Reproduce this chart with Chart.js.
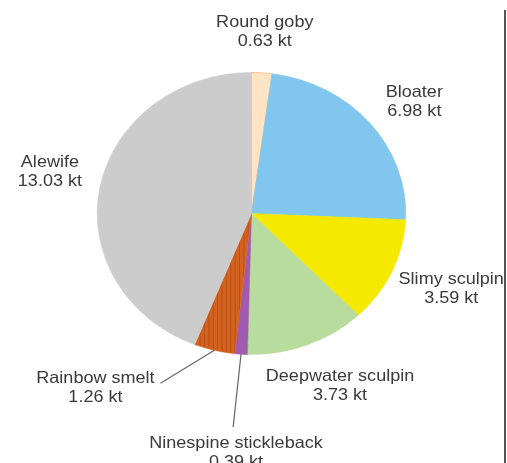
<!DOCTYPE html>
<html>
<head>
<meta charset="utf-8">
<script src="https://cdn.jsdelivr.net/npm/chart.js@4/dist/chart.umd.min.js"></script>
<style>
  html, body { margin: 0; padding: 0; background: #fff; }
  #wrap { position: relative; width: 507px; height: 463px; overflow: hidden; }
  #edge { position: absolute; left: 504px; top: 10px; width: 2px; height: 460px; background: #555; }
</style>
</head>
<body>
<div id="wrap">
  <canvas id="pie" width="507" height="463"></canvas>
  <div id="edge"></div>
</div>
<script>
// prey fish biomass, kilotonnes
const species = ['Round goby', 'Bloater', 'Slimy sculpin', 'Deepwater sculpin',
                 'Ninespine stickleback', 'Rainbow smelt', 'Alewife'];
const biomass = [0.63, 6.98, 3.59, 3.73, 0.39, 1.26, 13.03];
const sliceColors = ['#fee4c5', '#80c6ee', '#f5e900', '#b8db9e', '#a05aae', null, '#cccccc'];

// label placement: distance from centre (in radii) and angle nudge (degrees)
const labelDist = [1.29, 1.32, 1.40, 1.35, 1.70, 1.60, 1.34];
const labelNudge = [0, 3, -2, -4, -0.5, 25.3, 2];
// leader lines: [start radius, end radius, end angle nudge in degrees]
const leaderLines = { 4: [1.0, 1.52, 0.6], 5: [1.0, 1.34, 12.2] };

const STRETCH = 1.094; // pie is drawn a bit wider than tall

// hatched fill for rainbow smelt
function stripes() {
  const c = document.createElement('canvas');
  c.width = 4; c.height = 4;
  const g = c.getContext('2d');
  g.fillStyle = '#d4621f';
  g.fillRect(0, 0, 4, 4);
  g.fillStyle = '#bb5116';
  g.fillRect(0, 0, 1, 4);
  return g.createPattern(c, 'repeat');
}

const ctx = document.getElementById('pie').getContext('2d');
const fills = sliceColors.map(c => c || stripes());

const stretchPlugin = {
  id: 'stretch',
  beforeDatasetsDraw(chart) {
    const arc = chart.getDatasetMeta(0).data[0];
    const c = chart.ctx;
    c.save();
    c.translate(arc.x, arc.y);
    c.scale(STRETCH, 1);
    c.translate(-arc.x, -arc.y);
  },
  afterDatasetsDraw(chart) {
    chart.ctx.restore();
  }
};

const labelPlugin = {
  id: 'sliceLabels',
  afterDraw(chart) {
    const c = chart.ctx;
    const arcs = chart.getDatasetMeta(0).data;
    const deg = Math.PI / 180;
    arcs.forEach((arc, i) => {
      const r = arc.outerRadius;
      const mid = (arc.startAngle + arc.endAngle) / 2;
      const pos = (a, k) => [arc.x + Math.cos(a) * r * k * STRETCH, arc.y + Math.sin(a) * r * k];

      if (leaderLines[i]) {
        const [k0, k1, nudge] = leaderLines[i];
        const p0 = pos(mid, k0);
        const p1 = pos(mid + nudge * deg, k1);
        c.save();
        c.strokeStyle = '#666';
        c.lineWidth = 1.2;
        c.beginPath();
        c.moveTo(p0[0], p0[1]);
        c.lineTo(p1[0], p1[1]);
        c.stroke();
        c.restore();
      }

      const [x, y] = pos(mid + labelNudge[i] * deg, labelDist[i]);
      c.save();
      c.translate(x, y);
      c.scale(STRETCH, 1);
      c.fillStyle = '#3a3a3a';
      c.font = '16.5px "Liberation Sans", Arial, sans-serif';
      c.textAlign = 'center';
      c.textBaseline = 'middle';
      c.fillText(species[i], 0, -9.5);
      c.fillText(biomass[i].toFixed(2) + ' kt', 0, 9.5);
      c.restore();
    });
  }
};

new Chart(ctx, {
  type: 'pie',
  data: {
    labels: species,
    datasets: [{
      data: biomass,
      backgroundColor: fills,
      borderColor: ['#f7c896', '#80c6ee', '#f5e900', '#b8db9e', '#a05aae', '#d4621f', '#cccccc'],
      borderWidth: [1, 0.5, 0.5, 0.5, 0.5, 0.5, 0.5]
    }]
  },
  options: {
    responsive: false,
    animation: false,
    layout: { padding: { top: 72, bottom: 108, left: 110, right: 114 } },
    plugins: {
      legend: { display: false },
      tooltip: { enabled: false }
    }
  },
  plugins: [stretchPlugin, labelPlugin]
});
</script>
</body>
</html>
